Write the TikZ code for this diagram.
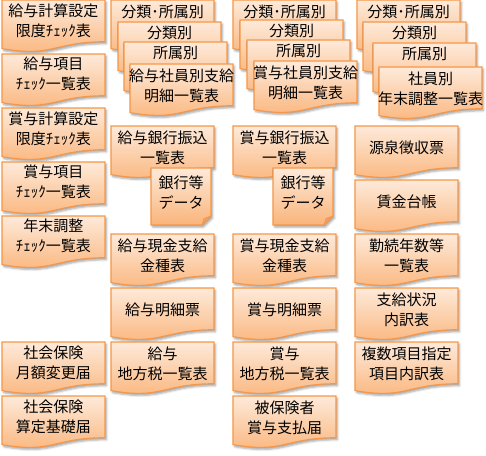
\documentclass[tikz,border=0pt]{standalone}
\usepackage{fontspec}
\setmainfont{Noto Sans CJK JP}
\usetikzlibrary{shadows,shadows.blur}
\definecolor{docTop}{RGB}{254,234,218}
\definecolor{docBot}{RGB}{250,180,122}
\definecolor{docLine}{RGB}{247,150,70}
\definecolor{foldCol}{RGB}{236,160,105}
\tikzset{
 docshape/.style={draw=docLine, line width=0.8, top color=docTop, bottom color=docBot,
   blur shadow={shadow xshift=1.2pt, shadow yshift=-1.6pt, shadow blur steps=4, shadow opacity=35, shadow blur radius=1.5pt}},
 doctext/.style={align=center, font=\fontsize{11.25pt}{15pt}\selectfont, inner sep=0pt, text=black},
}
% name, x, y, text y-offset, text
\newcommand\docbox[5]{%
  \path[docshape] (#2,#3) -- (#2+103,#3) -- (#2+103,#3+41.7)
    .. controls (#2+51.5,#3+41.7) and (#2+51.5,#3+57.6) .. (#2,#3+48.6) -- cycle;
  \node[doctext] (#1) at (#2+51.5,#3+#4) {#5};
}
% name, x, y, text
\newcommand\notebox[4]{%
  \path[docshape] (#2,#3) -- (#2+60,#3) -- (#2+60,#3+48) -- (#2+51,#3+57) -- (#2,#3+57) -- cycle;
  \fill[foldCol, draw=docLine, line width=0.5] (#2+60,#3+48) -- (#2+53,#3+50.5) -- (#2+51,#3+57) -- cycle;
  \node[doctext] (#1) at (#2+30,#3+25) {#4};
}
\begin{document}
\begin{tikzpicture}[x=0.75pt,y=-0.75pt]
\useasboundingbox (0,0) rectangle (486,456);
% column 1
\docbox{a1}{2}{0}{21}{給与計算設定\\限度ﾁｪｯｸ表}
\docbox{a2}{2}{54}{20}{給与項目\\ﾁｪｯｸ一覧表}
\docbox{a3}{2}{108}{21}{賞与計算設定\\限度ﾁｪｯｸ表}
\docbox{a4}{2}{162}{20}{賞与項目\\ﾁｪｯｸ一覧表}
\docbox{a5}{2}{216}{20}{年末調整\\ﾁｪｯｸ一覧表}
\docbox{a6}{2}{342}{21}{社会保険\\月額変更届}
\docbox{a7}{2}{396}{21}{社会保険\\算定基礎届}
% column 2
\docbox{b1}{111}{0}{12}{分類･所属別}
\docbox{b2}{118}{22}{11}{分類別}
\docbox{b3}{124}{42}{11}{所属別}
\docbox{b4}{130}{64}{22}{給与社員別支給\\明細一覧表}
\docbox{b5}{111}{126}{22}{給与銀行振込\\一覧表}
\notebox{b6}{151}{168}{銀行等\\データ}
\docbox{b7}{111}{234}{22}{給与現金支給\\金種表}
\docbox{b8}{111}{288}{22}{給与明細票}
\docbox{b9}{111}{342}{22}{給与\\地方税一覧表}
% column 3
\docbox{c1}{233}{0}{12}{分類･所属別}
\docbox{c2}{240}{20}{11}{分類別}
\docbox{c3}{247}{40}{11}{所属別}
\docbox{c4}{254}{61}{22}{賞与社員別支給\\明細一覧表}
\docbox{c5}{233}{126}{22}{賞与銀行振込\\一覧表}
\notebox{c6}{273}{168}{銀行等\\データ}
\docbox{c7}{233}{234}{22}{賞与現金支給\\金種表}
\docbox{c8}{233}{288}{22}{賞与明細票}
\docbox{c9}{233}{342}{22}{賞与\\地方税一覧表}
\docbox{c10}{233}{396}{22}{被保険者\\賞与支払届}
% column 4
\docbox{d1}{357}{0}{12}{分類･所属別}
\docbox{d2}{363}{22}{11}{分類別}
\docbox{d3}{373}{43}{11}{所属別}
\docbox{d4}{379}{67}{22}{社員別\\年末調整一覧表}
\docbox{d5}{355}{126}{22}{源泉徴収票}
\docbox{d6}{355}{180}{22}{賃金台帳}
\docbox{d7}{355}{234}{22}{勤続年数等\\一覧表}
\docbox{d8}{355}{288}{22}{支給状況\\内訳表}
\docbox{d9}{355}{342}{22}{複数項目指定\\項目内訳表}
\end{tikzpicture}
\end{document}
